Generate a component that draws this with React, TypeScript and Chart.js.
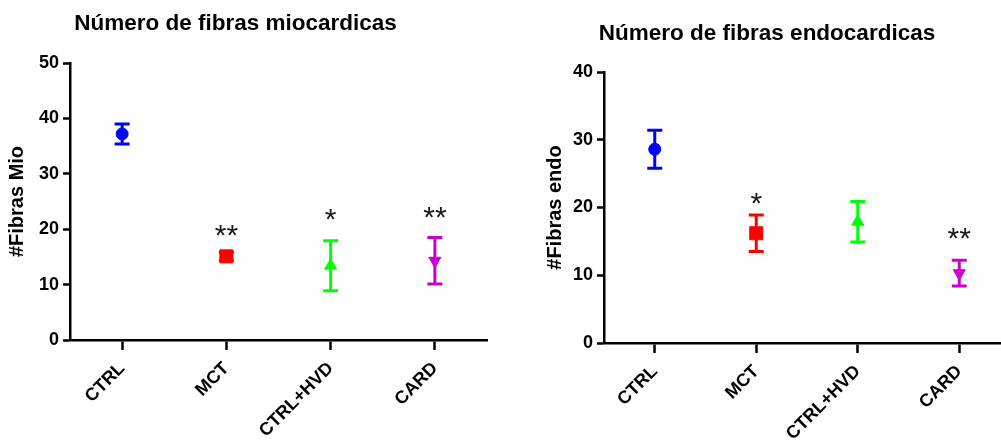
import React, { useEffect, useRef } from 'react';
import { Chart, registerables } from 'chart.js';

Chart.register(...registerables);

// ---- data ----
const categories = ['CTRL', 'MCT', 'CTRL+HVD', 'CARD'];

const mioTitle = 'Número de fibras miocardicas';
const mioAxisTitle = '#Fibras Mio';
const mioMean = [37.2, 15.1, 13.4, 14.3];
const mioSem = [1.8, 0.7, 4.5, 4.2];
const mioSig = ['', '**', '*', '**'];
const mioSigAt = [null, 19.7, 22.6, 23.0];
const mioMax = 50;

const endoTitle = 'Número de fibras endocardicas';
const endoAxisTitle = '#Fibras endo';
const endoMean = [28.6, 16.2, 17.9, 10.3];
const endoSem = [2.8, 2.7, 3.0, 1.9];
const endoSig = ['', '*', '', '**'];
const endoSigAt = [null, 21.3, null, 16.1];
const endoMax = 40;

const tickStep = 10;

// ---- styles ----
const FONT = "'Liberation Sans', Arial, sans-serif";
const colors = ['#0000FF', '#FF0000', '#00FF00', '#CC00CC'];
const pointStyles = ['circle', 'rect', 'triangle', 'triangle'];
const pointRotations = [0, 0, 0, 180];
const pointRadii = [6, 9.2, 7, 7];

const errorBarPlugin = {
  id: 'errorBars',
  beforeDatasetsDraw(chart: any, _args: any, opts: any) {
    const { ctx, scales } = chart;
    const x = scales.x;
    const y = scales.y;
    const mean = chart.data.datasets[0].data as number[];
    ctx.save();
    ctx.lineWidth = 3;
    ctx.lineCap = 'butt';
    (opts.sem as number[]).forEach((s, i) => {
      const px = x.getPixelForValue(i);
      const top = y.getPixelForValue(mean[i] + s);
      const bot = y.getPixelForValue(mean[i] - s);
      ctx.strokeStyle = colors[i];
      ctx.beginPath();
      ctx.moveTo(px, top);
      ctx.lineTo(px, bot);
      ctx.moveTo(px - 7.5, top);
      ctx.lineTo(px + 7.5, top);
      ctx.moveTo(px - 7.5, bot);
      ctx.lineTo(px + 7.5, bot);
      ctx.stroke();
    });
    ctx.restore();
  },
  afterDatasetsDraw(chart: any, _args: any, opts: any) {
    const { ctx, scales } = chart;
    const x = scales.x;
    const y = scales.y;
    ctx.save();
    ctx.fillStyle = '#1a1a1a';
    ctx.font = `30px ${FONT}`;
    ctx.textAlign = 'center';
    ctx.textBaseline = 'alphabetic';
    (opts.sig as string[]).forEach((label, i) => {
      const at = opts.sigAt[i];
      if (!label || at == null) return;
      const m = ctx.measureText(label);
      const px = x.getPixelForValue(i);
      const py = y.getPixelForValue(at);
      ctx.fillText(label, px, py + (m.actualBoundingBoxAscent - m.actualBoundingBoxDescent) / 2);
    });
    ctx.restore();
  },
};

type Layout = {
  padRight: number;
  titleTop: number;
  titleBottom: number;
  xHeight: number;
  yWidth: number;
  yTitlePad: number;
};

function makeConfig(
  title: string,
  yTitle: string,
  mean: number[],
  sem: number[],
  sig: string[],
  sigAt: (number | null)[],
  yMax: number,
  L: Layout
): any {
  return {
    type: 'line',
    data: {
      labels: categories,
      datasets: [
        {
          data: mean,
          showLine: false,
          pointStyle: pointStyles,
          pointRotation: pointRotations,
          pointRadius: pointRadii,
          pointHoverRadius: pointRadii,
          pointBackgroundColor: colors,
          pointBorderColor: colors,
          pointBorderWidth: 1,
        },
      ],
    },
    options: {
      responsive: false,
      animation: false,
      events: [],
      layout: { padding: { left: 0, right: L.padRight, top: 0, bottom: 0 } },
      plugins: {
        legend: { display: false },
        tooltip: { enabled: false },
        title: {
          display: true,
          text: title,
          color: '#000',
          font: { family: FONT, size: 22.5, weight: 'bold' },
          padding: { top: L.titleTop, bottom: L.titleBottom },
        },
        errorBars: { sem, sig, sigAt },
      },
      scales: {
        x: {
          type: 'category',
          offset: true,
          grid: {
            display: true,
            drawOnChartArea: false,
            offset: false,
            tickLength: 10,
            tickWidth: 2.5,
            tickColor: '#000',
          },
          border: { display: true, color: '#000', width: 2.5 },
          ticks: {
            color: '#000',
            font: { family: FONT, size: 18, weight: 'bold' },
            minRotation: 45,
            maxRotation: 45,
            padding: 8,
            autoSkip: false,
          },
          afterFit: (s: any) => {
            s.height = L.xHeight;
          },
        },
        y: {
          min: 0,
          max: yMax,
          ticks: {
            stepSize: tickStep,
            color: '#000',
            font: { family: FONT, size: 18, weight: 'bold' },
            padding: 4,
          },
          grid: {
            drawOnChartArea: false,
            tickLength: 7,
            tickWidth: 2.5,
            tickColor: '#000',
          },
          border: { display: true, color: '#000', width: 2.5 },
          title: {
            display: true,
            text: yTitle,
            color: '#000',
            font: { family: FONT, size: 20, weight: 'bold' },
            padding: { top: L.yTitlePad, bottom: 0 },
          },
          afterFit: (s: any) => {
            s.width = L.yWidth;
          },
        },
      },
    },
    plugins: [errorBarPlugin],
  };
}

function Panel(props: { left: number; width: number; config: any }) {
  const ref = useRef<HTMLCanvasElement | null>(null);
  useEffect(() => {
    if (!ref.current) return;
    const chart = new Chart(ref.current, props.config);
    return () => chart.destroy();
  }, []);
  return (
    <canvas
      ref={ref}
      width={props.width}
      height={440}
      style={{
        position: 'absolute',
        left: props.left,
        top: 0,
        width: props.width,
        height: 440,
        display: 'block',
      }}
    />
  );
}

export default function App() {
  const mioConfig = makeConfig(mioTitle, mioAxisTitle, mioMean, mioSem, mioSig, mioSigAt, mioMax, {
    padRight: 13,
    titleTop: 10,
    titleBottom: 26,
    xHeight: 100,
    yWidth: 86,
    yTitlePad: 21,
  });
  const endoConfig = makeConfig(endoTitle, endoAxisTitle, endoMean, endoSem, endoSig, endoSigAt, endoMax, {
    padRight: 10,
    titleTop: 20,
    titleBottom: 25,
    xHeight: 97,
    yWidth: 80,
    yTitlePad: 19,
  });
  return (
    <div
      style={{
        position: 'fixed',
        left: 0,
        top: 0,
        width: 1001,
        height: 440,
        overflow: 'hidden',
        background: '#fff',
      }}
    >
      <Panel left={-16} width={516} config={mioConfig} />
      <Panel left={524} width={496} config={endoConfig} />
    </div>
  );
}
